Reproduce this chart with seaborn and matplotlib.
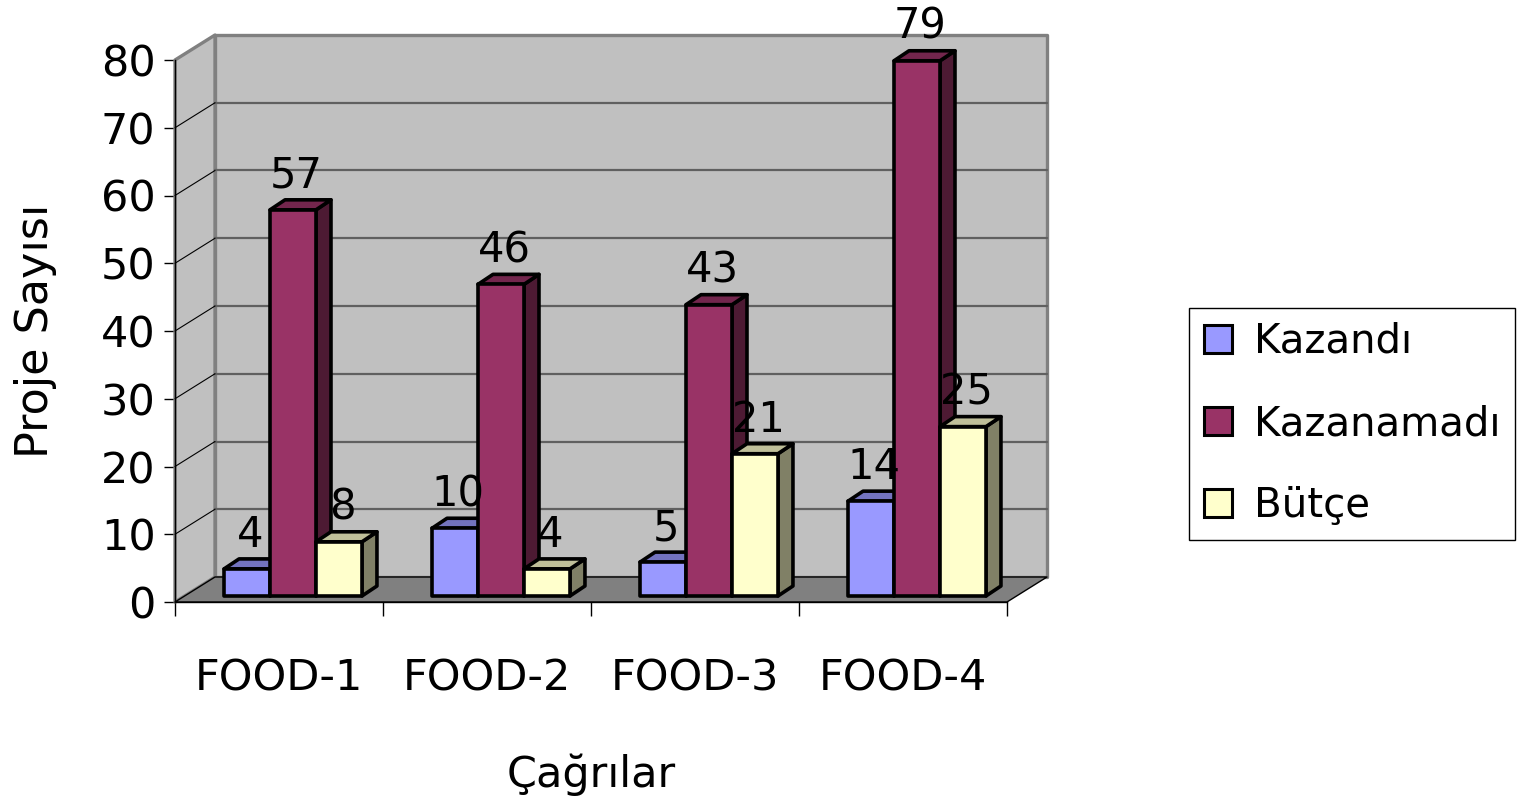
import numpy as np
import pandas as pd
import matplotlib
matplotlib.use("Agg")
import matplotlib.pyplot as plt
import matplotlib.transforms as mtransforms
from matplotlib.patches import Polygon, Patch, Rectangle
from matplotlib.lines import Line2D
import seaborn as sns

# veriler
categories = ["FOOD-1", "FOOD-2", "FOOD-3", "FOOD-4"]
series = ["Kazandı", "Kazanamadı", "Bütçe"]
kazandi = [4, 10, 5, 14]
kazanamadi = [57, 46, 43, 79]
butce = [8, 4, 21, 25]
yticks = [0, 10, 20, 30, 40, 50, 60, 70, 80]

front_colors = ["#9999FF", "#993366", "#FFFFCC"]
top_colors = ["#7373BF", "#73264D", "#BFBF99"]
side_colors = ["#4D4D80", "#4D1A33", "#808066"]

df = pd.DataFrame({
    "Çağrılar": categories * 3,
    "seri": np.repeat(series, len(categories)),
    "Proje Sayısı": kazandi + kazanamadi + butce,
})

sns.set_theme(style="white")
plt.rcParams['font.family'] = ['DejaVu Sans']
plt.rcParams.update({"text.color": "black", "axes.labelcolor": "black",
                     "xtick.color": "black", "ytick.color": "black"})

W, H = 1523, 806
fig = plt.figure(figsize=(W / 100, H / 100), dpi=100)
ax = fig.add_axes([175 / W, 1 - 602 / H, 832 / W, 542 / H])

sns.barplot(data=df, x="Çağrılar", y="Proje Sayısı", hue="seri", hue_order=series,
            palette=front_colors, saturation=1, width=0.663, edgecolor="black",
            linewidth=2.6, legend=False, ax=ax)
ax.set_xlim(-0.5, 3.5)
ax.set_ylim(0, 80)
ax.patch.set_visible(False)
ax.grid(False)

# seaborn'un çizdiği çubuklar (soldan sağa)
bars = [p for p in ax.patches if isinstance(p, Rectangle) and p.get_width() > 0]
bars = sorted(bars, key=lambda p: p.get_x())

# 3B derinlik ofsetleri (piksel)
WALL = (40, 25)
BF = (14, 6)
BB = (29, 16)

to_data = ax.transData.inverted()


def px(x, y, dx=0, dy=0):
    X, Y = ax.transData.transform((x, y))
    return to_data.transform((X + dx, Y + dy))


def poly(pts, fc, ec, lw, z):
    ax.add_patch(Polygon(pts, closed=True, facecolor=fc, edgecolor=ec, linewidth=lw,
                         zorder=z, clip_on=False, joinstyle="round"))


# duvarlar ve zemin
poly([px(-0.5, 0, *WALL), px(3.5, 0, *WALL), px(3.5, 80, *WALL), px(-0.5, 80, *WALL)],
     "#C0C0C0", "#808080", 2.4, 0.5)
poly([px(-0.5, 0), px(-0.5, 80), px(-0.5, 80, *WALL), px(-0.5, 0, *WALL)],
     "#C0C0C0", "#808080", 2.4, 0.6)
for v in yticks[1:-1]:
    a, b = px(-0.5, v, *WALL), px(3.5, v, *WALL)
    ax.add_line(Line2D([a[0], b[0]], [a[1], b[1]], color="#606060", lw=1.6, zorder=0.7, clip_on=False))
    c, d = px(-0.5, v), px(-0.5, v, *WALL)
    ax.add_line(Line2D([c[0], d[0]], [c[1], d[1]], color="black", lw=0.8, zorder=0.7, clip_on=False))
poly([px(-0.5, 0), px(3.5, 0), px(3.5, 0, *WALL), px(-0.5, 0, *WALL)],
     "#808080", "black", 1.0, 0.8)

# çubuklar
front_tr = mtransforms.offset_copy(ax.transData, fig=fig, x=BF[0], y=BF[1], units="dots")
for i, p in enumerate(bars):
    x0, w, h = p.get_x(), p.get_width(), p.get_height()
    k = front_colors.index(matplotlib.colors.to_hex(p.get_facecolor()).upper())
    z = 2 + i * 0.1
    poly([px(x0 + w, 0, *BF), px(x0 + w, h, *BF), px(x0 + w, h, *BB), px(x0 + w, 0, *BB)],
         side_colors[k], "black", 2.6, z)
    poly([px(x0, h, *BF), px(x0 + w, h, *BF), px(x0 + w, h, *BB), px(x0, h, *BB)],
         top_colors[k], "black", 2.6, z)
    p.set_transform(front_tr)
    p.set_zorder(z + 0.05)
    p.set_clip_on(False)
    p.set_joinstyle("round")
    lx, ly = px(x0 + w / 2, h, 17, 28)
    ax.text(lx, ly, f"{h:g}", ha="center", va="baseline", fontsize=30, zorder=10)

# eksenler
ax.set_yticks(yticks)
ax.set_yticklabels([str(v) for v in yticks])
ax.set_xticks(range(len(categories)))
ax.set_xticklabels(categories)
ax.set_xticks(np.arange(-0.5, 4, 1), minor=True)
ax.tick_params(axis="y", labelsize=31, length=8, width=1, direction="out", color="black", pad=6, left=True)
ax.tick_params(axis="x", which="major", labelsize=31, length=0, pad=40)
ax.tick_params(axis="x", which="minor", length=10, width=1, direction="out", color="black", bottom=True)
for s in ["top", "right"]:
    ax.spines[s].set_visible(False)
for s in ["left", "bottom"]:
    ax.spines[s].set_color("black")
    ax.spines[s].set_linewidth(1)
    ax.spines[s].set_zorder(1)

ax.set_xlabel("Çağrılar", fontsize=31, va="center")
ax.xaxis.set_label_coords(0.5, -0.319)
ax.set_ylabel("Proje Sayısı", fontsize=32, va="center")
ax.yaxis.set_label_coords(-0.168, 0.5)

handles = [Patch(facecolor=c, edgecolor="black", linewidth=2.2) for c in front_colors]
leg = fig.legend(handles, series, loc="center", bbox_to_anchor=(1352 / W, 1 - 424 / H),
                 fontsize=29, frameon=True, fancybox=False, framealpha=1, edgecolor="black",
                 handlelength=0.7, handleheight=0.7, handletextpad=0.55, labelspacing=1.05,
                 borderpad=0.35, borderaxespad=0)
leg.get_frame().set_linewidth(1)

fig.savefig("out.png", dpi=100)
